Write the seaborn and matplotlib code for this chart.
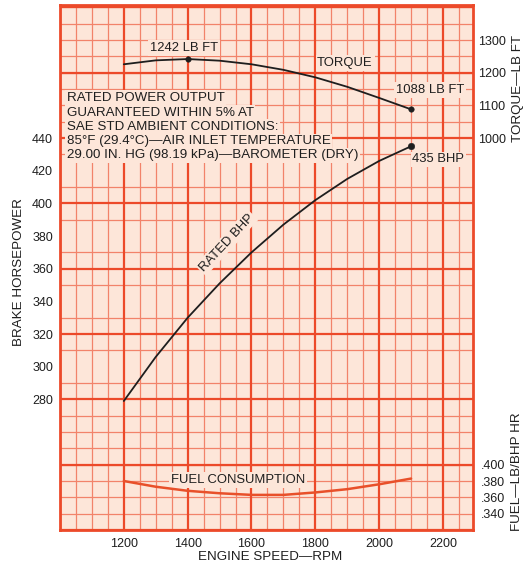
import matplotlib
matplotlib.use("Agg")
import matplotlib.pyplot as plt
import seaborn as sns
from matplotlib.ticker import MultipleLocator

# ---------------- data ----------------
rpm = [1200, 1300, 1400, 1500, 1600, 1700, 1800, 1900, 2000, 2100]
torque_lbft = [1226, 1238, 1242, 1237, 1226, 1209, 1186, 1157, 1123, 1088]
bhp = [279, 306, 330, 351, 370, 387, 402, 415, 426, 435]
fuel = [0.380, 0.373, 0.368, 0.365, 0.363, 0.363, 0.366, 0.370, 0.376, 0.383]

rpm_ticks = [1200, 1400, 1600, 1800, 2000, 2200]
hp_ticks = [280, 300, 320, 340, 360, 380, 400, 420, 440]
torque_ticks = [1000, 1100, 1200, 1300]
fuel_ticks = [0.34, 0.36, 0.38, 0.40]
fuel_tick_labels = [".340", ".360", ".380", ".400"]

note_lines = [
    "RATED POWER OUTPUT",
    "GUARANTEED WITHIN 5% AT",
    "SAE STD AMBIENT CONDITIONS:",
    "85°F (29.4°C)—AIR INLET TEMPERATURE",
    "29.00 IN. HG (98.19 kPa)—BAROMETER (DRY)",
]

# ---------------- style ----------------
sns.set_style("white")
plt.rcParams["font.family"] = ["Liberation Sans", "DejaVu Sans"]

BG = "#fde6d9"
MINOR = "#f2836a"
MAJOR = "#ec4a2a"
INK = "#1e1e1e"
FUELC = "#e8502a"

W, H = 527, 564
fig = plt.figure(figsize=(W / 100, H / 100), dpi=100)
ax = fig.add_axes([60 / W, 34 / H, 413 / W, 525 / H])
ax.set_facecolor(BG)

# main curve (brake horsepower)
sns.lineplot(x=rpm, y=bhp, ax=ax, color=INK, lw=1.3, zorder=5)
sns.scatterplot(x=[rpm[-1]], y=[bhp[-1]], ax=ax, color=INK, s=22, zorder=6,
                edgecolor=INK)

ax.set_xlim(1000, 2294)
ax.set_ylim(200, 521.5)
ax.set_xticks(rpm_ticks)
ax.set_yticks(hp_ticks)
ax.xaxis.set_minor_locator(MultipleLocator(50))
ax.yaxis.set_minor_locator(MultipleLocator(10))
ax.set_axisbelow(True)
ax.grid(False, which="major")
ax.grid(True, which="minor", color=MINOR, lw=0.9)
for v in range(1000, 2300, 200):
    ax.axvline(v, color=MAJOR, lw=1.6, zorder=0.8)
for h in range(200, 522, 40):
    ax.axhline(h, color=MAJOR, lw=1.6, zorder=0.8)
ax.tick_params(which="both", length=0)
ax.tick_params(axis="y", pad=5, labelsize=9, labelcolor=INK)
ax.tick_params(axis="x", pad=5.5, labelsize=9, labelcolor=INK)
for s in ax.spines.values():
    s.set_visible(True)
    s.set_color(MAJOR)
    s.set_linewidth(2.0)
ax.set_xlabel("")
ax.set_ylabel("")

box = dict(facecolor=BG, edgecolor="none", pad=1.2)

# note block
note_y = [462.7, 453.5, 444.9, 436.3, 427.7]
for txt, yy in zip(note_lines, note_y):
    ax.text(1021, yy, txt, fontsize=9.6, color=INK, ha="left", va="baseline",
            bbox=box, zorder=3)

ax.text(1389, 495.2, "1242 LB FT", fontsize=9.4, color=INK, ha="center",
        va="center", bbox=box, zorder=3)
ax.text(1893, 486.0, "TORQUE", fontsize=9.4, color=INK, ha="center",
        va="center", bbox=box, zorder=3)
ax.text(2160, 469.4, "1088 LB FT", fontsize=9.4, color=INK, ha="center",
        va="center", bbox=box, zorder=3)
ax.text(2185, 427.0, "435 BHP", fontsize=9.4, color=INK, ha="center",
        va="center", bbox=box, zorder=3)
ax.text(1522, 376.0, "RATED BHP", fontsize=9.4, color=INK, ha="center",
        va="center", rotation=47, rotation_mode="anchor", bbox=box, zorder=3)
ax.text(1558, 230.6, "FUEL CONSUMPTION", fontsize=9.4, color=INK,
        ha="center", va="center", bbox=box, zorder=3)

# torque axis
ax_t = ax.twinx()
sns.lineplot(x=rpm, y=torque_lbft, ax=ax_t, color=INK, lw=1.3)
sns.scatterplot(x=[rpm[2], rpm[-1]], y=[torque_lbft[2], torque_lbft[-1]],
                ax=ax_t, color=INK, s=16, edgecolor=INK)
ax_t.set_ylim(-200, 1407.5)
ax_t.set_yticks(torque_ticks)
ax_t.tick_params(length=0, pad=4, labelsize=9, labelcolor=INK)
ax_t.set_ylabel("")
for s in ax_t.spines.values():
    s.set_visible(False)

# fuel axis
ax_f = ax.twinx()
sns.lineplot(x=rpm, y=fuel, ax=ax_f, color=FUELC, lw=1.8)
ax_f.set_ylim(0.32, 0.963)
ax_f.set_yticks(fuel_ticks)
ax_f.set_yticklabels(fuel_tick_labels)
ax_f.tick_params(length=0, pad=6, labelsize=9, labelcolor=INK)
ax_f.set_ylabel("")
for s in ax_f.spines.values():
    s.set_visible(False)
ax.set_xlim(1000, 2294)

# axis titles
fig.text(270 / W, 1 - 557 / H, "ENGINE SPEED—RPM", fontsize=9.6, color=INK,
         ha="center", va="center")
fig.text(19 / W, 1 - 272 / H, "BRAKE HORSEPOWER", fontsize=9.6, color=INK,
         ha="center", va="center", rotation=90)
fig.text(518 / W, 1 - 88 / H, "TORQUE—LB FT", fontsize=9.6, color=INK,
         ha="center", va="center", rotation=90)
fig.text(517 / W, 1 - 472 / H, "FUEL—LB/BHP HR", fontsize=9.6, color=INK,
         ha="center", va="center", rotation=90)

fig.savefig("out.png", dpi=100, facecolor="white")
